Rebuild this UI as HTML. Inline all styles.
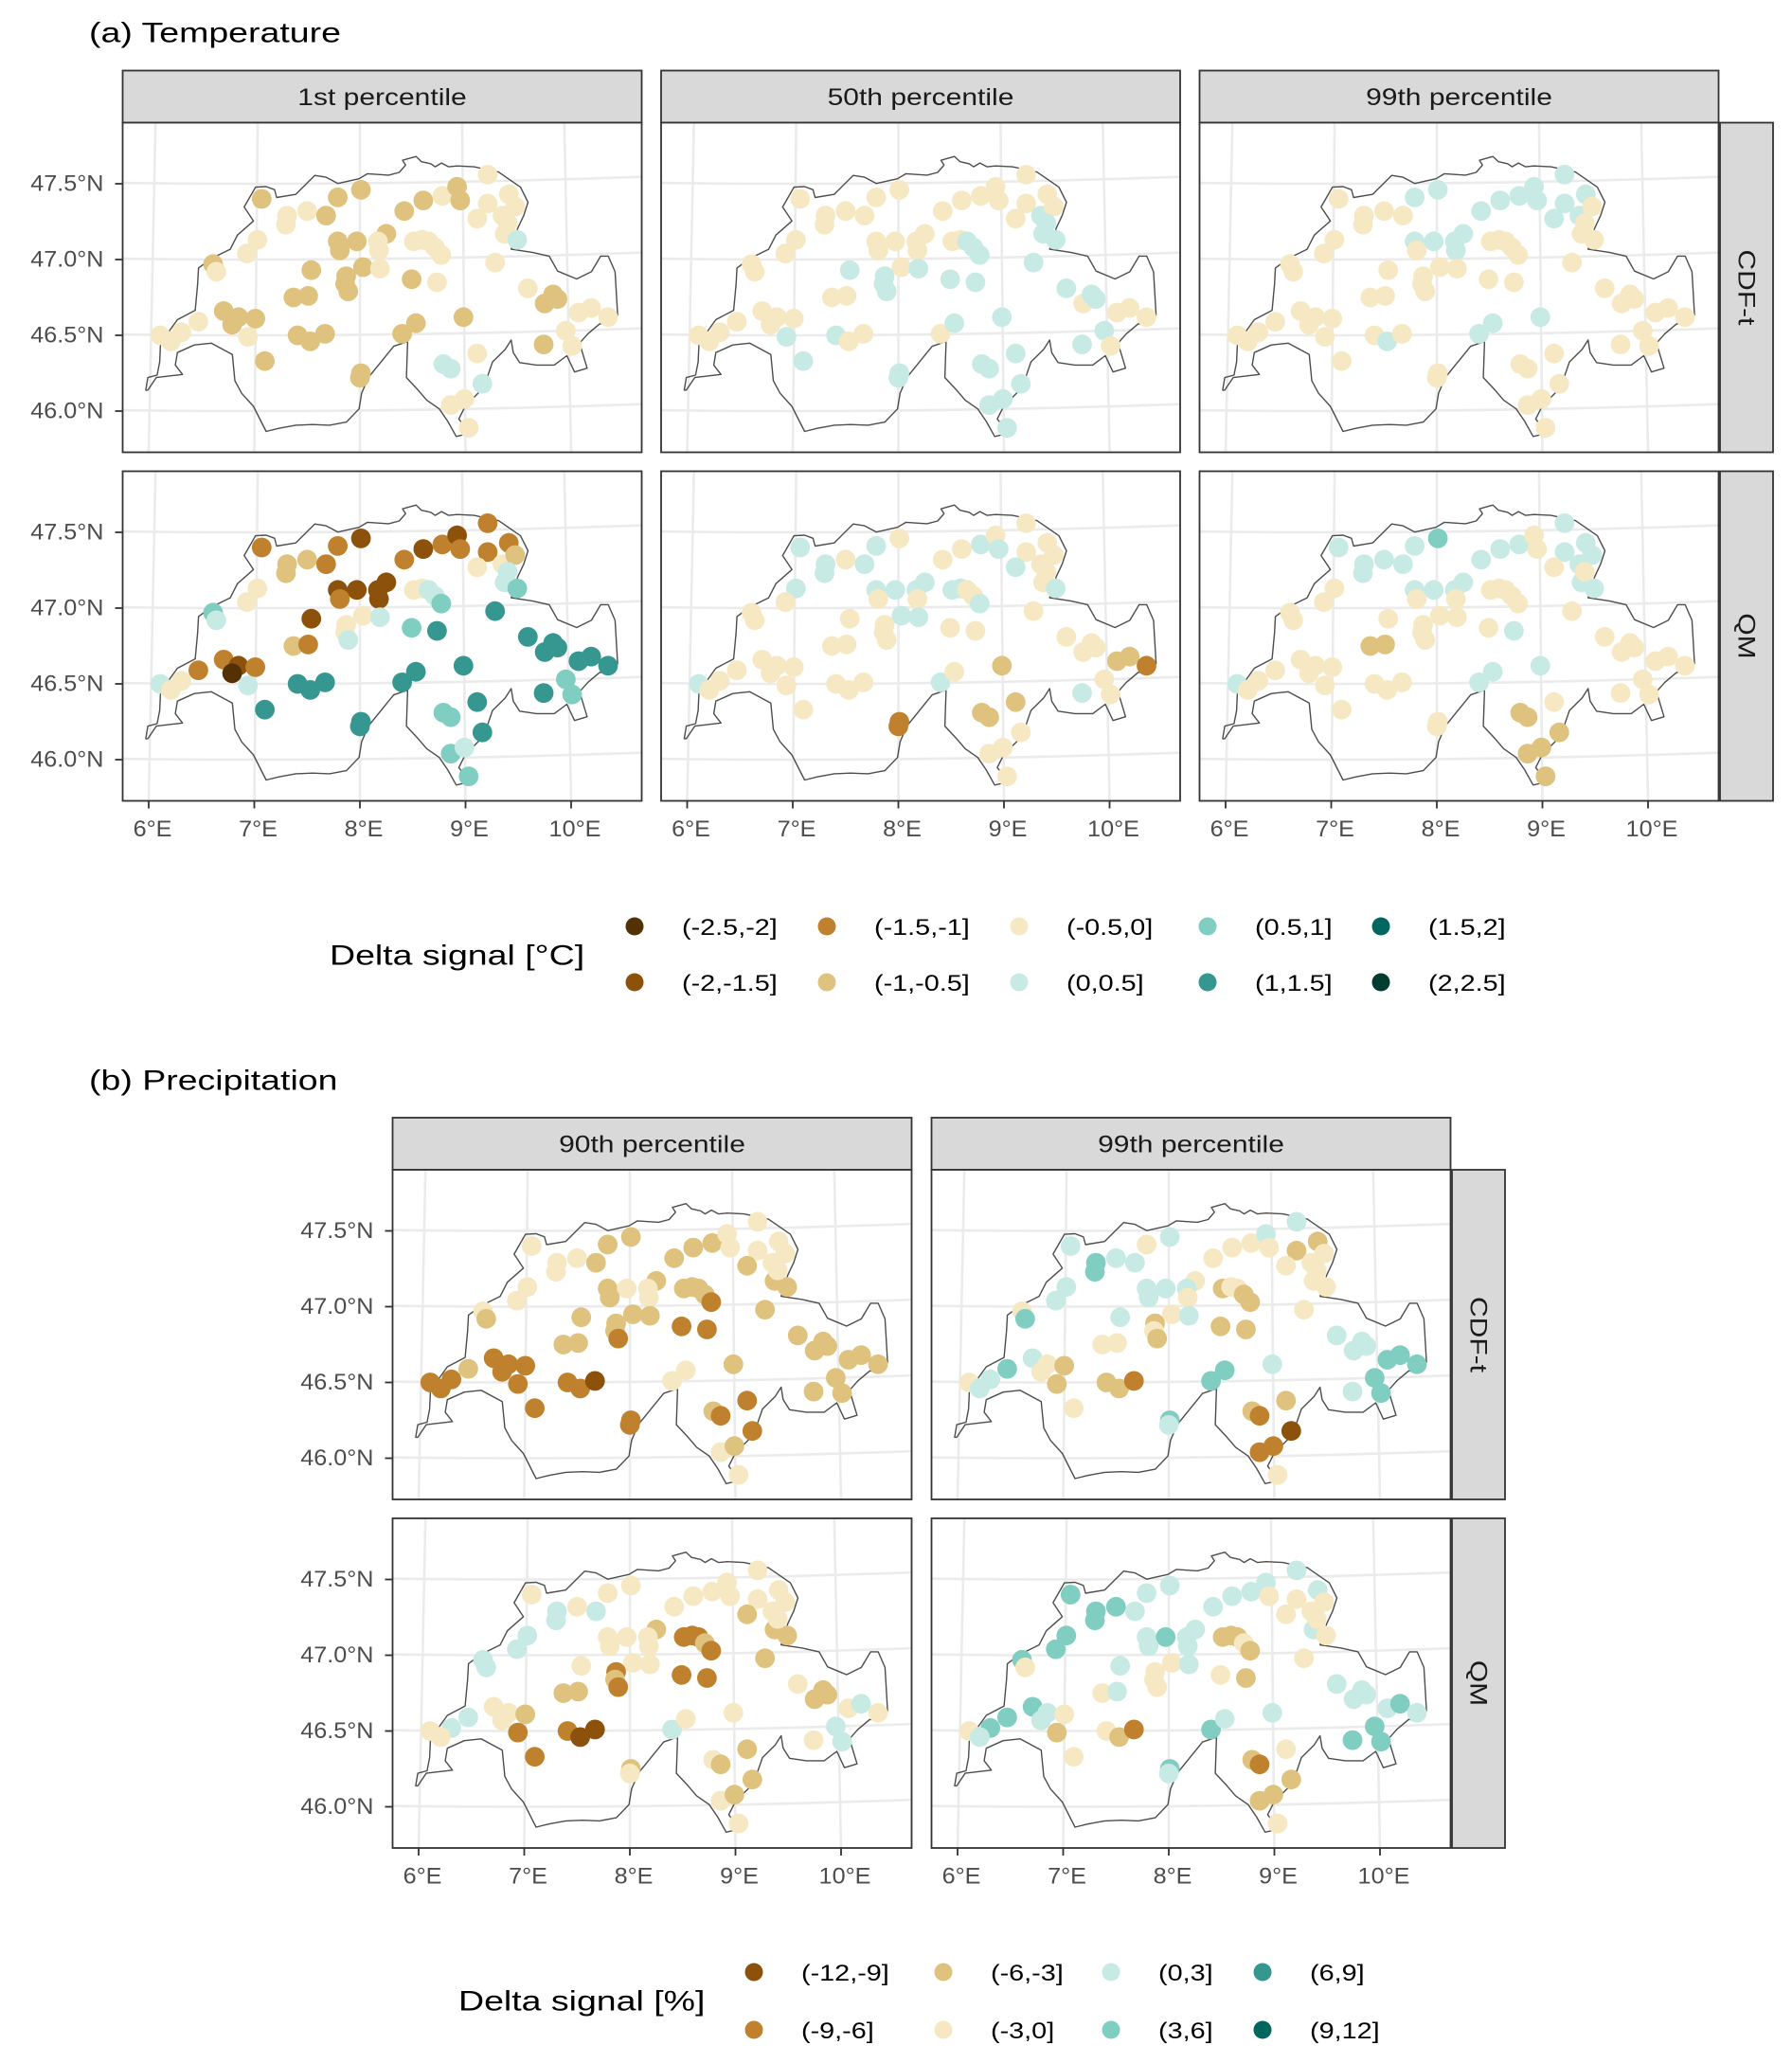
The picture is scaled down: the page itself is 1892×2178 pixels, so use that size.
<!DOCTYPE html>
<html><head><meta charset="utf-8">
<style>
html,body{margin:0;padding:0;background:#fff;}
svg{display:block;font-family:"Liberation Sans",Arial,sans-serif;}
</style></head>
<body>
<svg id="fig" width="1892" height="2178" viewBox="0 0 1892 2178" xmlns="http://www.w3.org/2000/svg"></svg>
<script>
// ---------- DATA ----------
const stationLon = [7.07,7.79,8.01,7.31,7.30,7.50,7.68,8.42,8.60,8.78,
8.92,8.95,9.21,9.41,9.21,9.11,9.35,9.47,9.37,9.49,
9.40,7.03,6.93,6.61,6.64,7.79,7.97,7.81,8.25,8.17,
8.18,8.51,8.59,8.65,8.71,8.77,7.54,8.03,7.87,7.86,
7.89,8.19,8.49,8.73,9.28,7.37,7.51,9.59,9.75,9.83,
9.87,10.07,10.19,10.35,6.71,6.85,6.79,7.01,6.47,6.31,
6.11,6.21,6.94,7.41,7.53,7.67,7.10,8.40,8.53,8.98,
9.11,8.79,8.86,9.16,8.01,8.00,8.86,8.99,9.03,9.74,
9.95,10.01];
const stationLat = [47.40,47.41,47.46,47.29,47.23,47.32,47.29,47.32,47.39,47.42,
47.48,47.39,47.56,47.43,47.37,47.27,47.29,47.35,47.17,47.13,
47.24,47.13,47.04,46.97,46.92,47.12,47.12,47.06,47.17,47.12,
47.06,47.12,47.13,47.12,47.08,47.03,46.93,46.95,46.89,46.84,
46.79,46.94,46.87,46.85,46.98,46.75,46.76,46.81,46.71,46.77,
46.74,46.65,46.68,46.62,46.66,46.62,46.57,46.61,46.59,46.52,
46.50,46.46,46.49,46.50,46.46,46.51,46.33,46.51,46.58,46.62,
46.38,46.31,46.28,46.18,46.25,46.22,46.04,46.08,45.89,46.44,
46.53,46.43];

const tempP01Cdft = [3,3,3,4,4,4,3,3,3,4, 3,3,4,4,4,4,4,4,4,5, 4,4,4,3,4,3,3,3,3,4, 4,4,4,4,4,4,3,3,3,3, 3,4,3,4,4,3,3,4,3,3, 3,4,4,4,3,3,3,3,4,4, 4,4,4,3,3,3,3,3,3,3, 4,5,5,5,3,3,4,4,4,3, 4,4];
const tempP01Qm   = [2,2,1,3,3,3,2,2,1,2, 1,2,2,2,2,4,4,3,5,6, 5,4,4,6,5,1,1,2,1,1, 1,4,4,5,5,6,1,4,4,4, 5,5,6,7,7,3,2,7,7,7, 7,7,7,7,2,1,0,2,2,4, 5,4,5,7,7,7,7,7,7,7, 7,6,6,7,7,7,6,5,6,7, 6,6];
const tempP50Cdft = [4,4,4,4,4,4,4,4,4,4, 4,4,4,4,4,4,5,4,5,5, 5,4,4,4,4,4,4,4,4,4, 4,4,4,5,5,5,5,4,5,5, 5,5,5,5,5,4,4,5,4,5, 5,4,4,4,4,4,4,4,4,4, 4,4,5,5,4,4,5,4,5,5, 5,5,5,5,5,5,5,5,5,5, 5,4];
const tempP50Qm   = [5,5,4,5,5,4,5,4,4,5, 4,5,4,4,4,5,4,4,4,5, 4,5,4,4,4,5,5,4,5,5, 4,5,5,4,4,5,4,5,4,4, 4,5,4,4,4,4,4,4,4,4, 4,3,3,2,4,4,4,4,4,4, 5,4,4,4,4,4,4,5,4,3, 3,3,3,4,2,2,4,4,4,5, 4,4];
const tempP99Cdft = [4,5,5,4,4,4,4,5,5,5, 5,5,5,5,5,5,5,4,4,4, 4,4,4,4,4,5,5,4,5,5, 5,4,4,4,4,4,4,4,4,4, 4,4,4,4,4,4,4,4,4,4, 4,4,4,4,4,4,4,4,4,4, 4,4,4,4,5,4,4,5,5,5, 4,4,4,4,4,4,4,4,4,4, 4,4];
const tempP99Qm   = [5,5,6,5,5,5,5,5,5,5, 4,4,5,5,5,4,5,5,5,5, 4,4,4,4,4,5,5,4,5,5, 4,4,4,4,4,4,4,4,4,4, 4,4,4,5,4,3,3,4,4,4, 4,4,4,4,4,4,4,4,4,4, 5,4,4,4,4,4,4,5,5,5, 4,3,3,3,4,4,3,3,3,4, 4,4];
const precP90Cdft = [3,2,2,3,3,3,2,2,2,2, 3,3,3,3,3,2,3,3,2,2, 3,3,3,3,2,2,3,2,2,3, 3,2,2,2,2,1,2,2,2,2, 1,2,1,1,2,2,2,2,2,2, 2,2,2,2,1,1,1,1,2,1, 1,1,1,1,1,0,1,3,3,2, 1,2,1,1,1,1,3,2,3,2, 2,2];
const precP90Qm   = [3,3,3,4,4,3,4,3,3,3, 3,3,3,3,3,2,3,3,2,2, 3,4,4,4,4,3,3,3,2,3, 3,1,1,1,2,1,3,3,1,2, 1,3,1,1,2,2,2,3,2,2, 2,3,4,3,3,3,3,2,4,4, 3,3,1,1,0,0,1,4,3,3, 2,3,2,2,2,3,3,2,3,3, 4,4];
const precP99Cdft = [4,3,4,5,5,4,4,3,3,3, 4,3,4,2,2,3,3,3,3,3, 3,4,4,3,5,4,4,4,3,4, 3,2,3,3,2,2,4,3,2,3, 2,4,2,2,3,3,3,4,4,4, 4,5,5,5,4,3,3,2,5,4, 3,4,2,2,2,1,3,5,5,4, 2,2,1,0,5,4,1,1,3,4, 5,5];
const precP99Qm   = [5,4,4,5,5,5,4,4,4,4, 4,3,4,4,3,3,3,3,4,3, 3,5,5,5,3,4,5,4,4,4, 4,2,2,2,3,2,4,3,3,3, 3,4,3,2,3,3,4,4,4,4, 4,4,5,4,5,4,4,3,5,5, 3,4,2,3,2,1,3,5,4,4, 3,2,1,2,5,4,2,2,3,5, 5,5];

const tempLegendLabels = ["(-2.5,-2]","(-2,-1.5]","(-1.5,-1]","(-1,-0.5]","(-0.5,0]","(0,0.5]","(0.5,1]","(1,1.5]","(1.5,2]","(2,2.5]"];
const precLegendLabels = ["(-12,-9]","(-9,-6]","(-6,-3]","(-3,0]","(0,3]","(3,6]","(6,9]","(9,12]"];
const latTicks = [47.5,47.0,46.5,46.0];
const latTickLabels = ["47.5°N","47.0°N","46.5°N","46.0°N"];
const lonTicks = [6,7,8,9,10];
const lonTickLabels = ["6°E","7°E","8°E","9°E","10°E"];
const tempColumnTitles = ["1st percentile","50th percentile","99th percentile"];
const precColumnTitles = ["90th percentile","99th percentile"];
const rowTitles = ["CDF-t","QM"];

// ---------- STYLE ----------
const tempColors = ["#543005","#8c510a","#bf812d","#dfc27d","#f6e8c3","#c7eae5","#80cdc1","#35978f","#01665e","#003c30"];
const precColors = ["#8c510a","#bf812d","#dfc27d","#f6e8c3","#c7eae5","#80cdc1","#35978f","#01665e"];

const outlineTrace = [[345,1240],[350,1200],[372,1192],[378,1150],[380,1090],[420,1015],[462,985],[468,900],[470,850],[500,820],[545,790],[562,745],[600,700],[578,655],[605,592],[630,590],[650,600],[655,625],[700,615],[745,550],[772,560],[800,580],[850,565],[870,540],[920,548],[945,532],[960,490],[953,462],[985,440],[998,470],[1020,482],[1030,500],[1045,478],[1062,500],[1082,495],[1122,500],[1180,530],[1232,592],[1250,640],[1240,682],[1226,722],[1210,790],[1260,800],[1300,812],[1320,860],[1365,885],[1400,862],[1422,812],[1440,812],[1456,862],[1462,1000],[1448,1030],[1420,1028],[1392,1060],[1372,1090],[1390,1170],[1360,1182],[1342,1130],[1312,1160],[1270,1160],[1230,1152],[1215,1120],[1210,1080],[1196,1110],[1166,1150],[1145,1232],[1102,1290],[1086,1332],[1112,1378],[1080,1388],[1060,1340],[1040,1300],[1010,1272],[990,1240],[962,1200],[965,1085],[932,1100],[902,1150],[872,1200],[856,1250],[850,1300],[820,1342],[780,1352],[740,1350],[700,1352],[660,1362],[630,1372],[600,1292],[572,1250],[556,1210],[550,1126],[500,1090],[460,1096],[420,1120],[415,1160],[432,1190],[370,1200],[350,1240]];
const outlineLonLat = outlineTrace.map(p => {
  let zy = p[1];
  if (zy < 560) zy = 560 - (560 - zy) * 0.55;
  return [6 + (p[0]-352)/250, 47.5 - (zy-581)/484];
});

const NS = "http://www.w3.org/2000/svg";
const svg = document.getElementById('fig');
function el(tag, attrs, parent){
  const e = document.createElementNS(NS, tag);
  for (const k in attrs) e.setAttribute(k, attrs[k]);
  (parent||svg).appendChild(e);
  return e;
}
function txt(str, x, y, size, anchor, sx, parent, fill, rot){
  const t = el('text', {x:0, y:0, 'font-size':size, 'text-anchor':anchor, 'dominant-baseline':'central', fill:fill||'#000',
    transform:`translate(${x},${y})${rot?` rotate(${rot})`:''} scale(${sx},1)`}, parent);
  t.textContent = str;
  return t;
}

const W = 548, H = 348;
let clipId = 0;
function panel(left, top, lonArr, latArr, cats, colors, name){
  const g = el('g', {});
  
  
  const xOf = lon => left + 27.5 + (lon - 6) * 111.5;
  const yOf = lat => top + 64.5 + (47.5 - lat) * 160;
  const cid = 'clip' + (clipId++);
  const cp = el('clipPath', {id: cid}, g);
  el('rect', {x:left, y:top, width:W, height:H}, cp);
  el('rect', {x:left, y:top, width:W, height:H, fill:'#fff'}, g);
  const inner = el('g', {'clip-path':`url(#${cid})`}, g);
  const latLines = [45.5,46.0,46.5,47.0,47.5,48.0];
  latLines.forEach(lat => {
    let d = '';
    for (let lon = 5.5; lon <= 11.01; lon += 0.25){
      const x = xOf(lon), y = yOf(lat) - 0.55*(lon-7)*(lon-7);
      d += (d ? 'L' : 'M') + x.toFixed(1) + ',' + y.toFixed(1);
    }
    const p = el('path', {d, fill:'none', stroke:'#ebebeb', 'stroke-width':2.6}, inner);
    
    
  });
  lonTicks.forEach(lon => {
    const xb = xOf(lon), xt = xb - (lon - 8) * 3.6;
    const p = el('line', {x1:xb, y1:top+H, x2:xt, y2:top, stroke:'#ebebeb', 'stroke-width':2.6}, inner);
    
    
  });
  const od = outlineLonLat.map((p,i) => (i ? 'L' : 'M') + xOf(p[0]).toFixed(1) + ',' + yOf(p[1]).toFixed(1)).join('') + 'Z';
  const op = el('path', {d:od, fill:'none', stroke:'#4d4d4d', 'stroke-width':1.4, 'stroke-linejoin':'round'}, inner);
  
  
  for (let i = 0; i < lonArr.length; i++){
    const c = el('circle', {cx:xOf(lonArr[i]).toFixed(1), cy:yOf(latArr[i]).toFixed(1), r:10.4, fill:colors[cats[i]]}, inner);
    
    
  }
  el('rect', {x:left, y:top, width:W, height:H, fill:'none', stroke:'#333', 'stroke-width':1.8}, g);
  return {xOf, yOf};
}
function topStrip(left, y, label){
  const g = el('g', {});
  
  
  el('rect', {x:left, y:y, width:W, height:55, fill:'#d9d9d9', stroke:'#333', 'stroke-width':1.8}, g);
  txt(label, left + W/2, y + 28, 25, 'middle', 1.2, g, '#1a1a1a');
}
function sideStrip(x, top, label){
  const g = el('g', {});
  
  
  el('rect', {x:x, y:top, width:56, height:H, fill:'#d9d9d9', stroke:'#333', 'stroke-width':1.8}, g);
  txt(label, x + 28, top + H/2, 25, 'middle', 1.2, g, '#1a1a1a', 90);
}
function yAxis(left, top){
  latTicks.forEach((lat, i) => {
    const y = top + 64.5 + (47.5 - lat) * 160;
    el('line', {x1:left-8, y1:y, x2:left, y2:y, stroke:'#333', 'stroke-width':1.8});
    const t = txt(latTickLabels[i], left - 20, y, 24, 'end', 1.05, svg, '#4d4d4d');
    
    
  });
}
function xAxis(left, bottom){
  lonTicks.forEach((lon, i) => {
    const x = left + 27.5 + (lon - 6) * 111.5;
    el('line', {x1:x, y1:bottom, x2:x, y2:bottom+8, stroke:'#333', 'stroke-width':1.8});
    const t = txt(lonTickLabels[i], x + 4, bottom + 30, 24, 'middle', 1.05, svg, '#4d4d4d');
    
    
  });
}

const tA = txt("(a) Temperature", 94, 35, 30, 'start', 1.25, svg, '#000');


const tLefts = [129.5, 698, 1266.5];
const tTops = [129.5, 497.5];
const tData = [[tempP01Cdft, tempP50Cdft, tempP99Cdft],[tempP01Qm, tempP50Qm, tempP99Qm]];
tLefts.forEach((l, c) => topStrip(l, 74.5, tempColumnTitles[c]));
tTops.forEach((t, r) => {
  tLefts.forEach((l, c) => panel(l, t, stationLon, stationLat, tData[r][c], tempColors, 'temp-map-' + rowTitles[r] + '-' + c));
  sideStrip(1816, t, rowTitles[r]);
  yAxis(tLefts[0], t);
});
tLefts.forEach(l => xAxis(l, tTops[1] + H));

(function(){
  const g = el('g', {});
  
  
  const lt = txt("Delta signal [°C]", 348, 1009, 30, 'start', 1.25, g, '#000');
  
  
  const colX = [670, 873, 1076, 1275, 1458];
  const rowY = [978, 1037];
  tempLegendLabels.forEach((lab, i) => {
    const cx = colX[Math.floor(i/2)], cy = rowY[i%2];
    const c = el('circle', {cx, cy, r:9.5, fill:tempColors[i]}, g);
    
    
    const t = txt(lab, cx + 50, cy + 1, 24, 'start', 1.2, g, '#000');
    
    
  });
})();

const tB = txt("(b) Precipitation", 94, 1141, 30, 'start', 1.25, svg, '#000');


const pLefts = [414.5, 983.5];
const pTops = [1235, 1603];
const pData = [[precP90Cdft, precP99Cdft],[precP90Qm, precP99Qm]];
pLefts.forEach((l, c) => topStrip(l, 1180, precColumnTitles[c]));
pTops.forEach((t, r) => {
  pLefts.forEach((l, c) => panel(l, t, stationLon, stationLat, pData[r][c], precColors, 'precip-map-' + rowTitles[r] + '-' + c));
  sideStrip(1533, t, rowTitles[r]);
  yAxis(pLefts[0], t);
});
pLefts.forEach(l => xAxis(l, pTops[1] + H));

(function(){
  const g = el('g', {});
  
  
  const lt = txt("Delta signal [%]", 484, 2113, 30, 'start', 1.25, g, '#000');
  
  
  const colX = [796, 996, 1173, 1333];
  const rowY = [2082, 2143];
  precLegendLabels.forEach((lab, i) => {
    const cx = colX[Math.floor(i/2)], cy = rowY[i%2];
    const c = el('circle', {cx, cy, r:9.5, fill:precColors[i]}, g);
    
    
    const t = txt(lab, cx + 50, cy + 1, 24, 'start', 1.2, g, '#000');
    
    
  });
})();
</script>
</body></html>
